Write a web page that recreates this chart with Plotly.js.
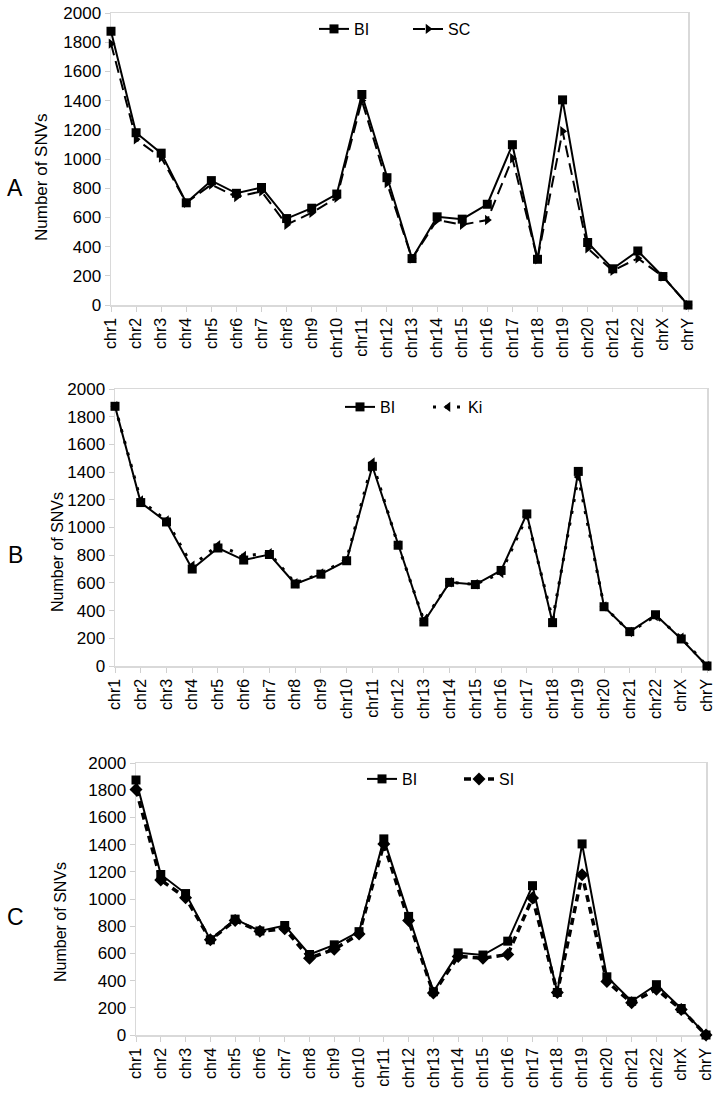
<!DOCTYPE html>
<html>
<head>
<meta charset="utf-8">
<script src="https://cdn.plot.ly/plotly-3.0.1.min.js"></script>
<style>html,body{margin:0;padding:0;background:#fff;}#chart{width:718px;height:1094px;}</style>
</head>
<body>
<div id="chart"></div>
<script>
const chromosomes = ["chr1","chr2","chr3","chr4","chr5","chr6","chr7","chr8","chr9","chr10","chr11","chr12","chr13","chr14","chr15","chr16","chr17","chr18","chr19","chr20","chr21","chr22","chrX","chrY"];
const BI = [1875,1180,1040,700,852,765,805,592,663,760,1442,872,318,604,588,690,1098,313,1405,428,248,370,195,0];
const SC = [1790,1135,1010,700,825,740,778,550,632,735,1400,835,318,582,550,582,1005,313,1190,388,235,320,195,0];
const Ki = [1875,1195,1050,725,872,795,815,598,668,770,1470,872,328,605,590,672,1080,335,1365,430,245,360,205,0];
const SI = [1805,1140,1010,700,842,762,782,565,630,742,1405,842,308,578,565,592,1008,313,1178,393,238,336,188,0];
const yTicks = [0,200,400,600,800,1000,1200,1400,1600,1800,2000];

const W = 718, H = 1094;
const FONT = "Liberation Sans, Arial, sans-serif";
const px = v => v / W;
const py = v => 1 - v / H;

function xax(d, anchor) {
  return {
    domain: d, anchor: anchor, type: 'category', range: [0, chromosomes.length - 1],
    tickangle: -90, ticks: 'outside', ticklen: 5, tickcolor: '#d0d0d0', tickwidth: 1,
    showline: true, linecolor: '#d9d9d9', linewidth: 1.5, mirror: true, layer: 'below traces',
    showgrid: false, zeroline: false, tickfont: {family: FONT, size: 16, color: '#000'},
    fixedrange: true
  };
}
function yax(d, anchor) {
  return {
    domain: d, anchor: anchor, range: [0, 2000], tickvals: yTicks, ticktext: yTicks.map(String),
    ticks: 'outside', ticklen: 5, tickcolor: '#d0d0d0', tickwidth: 1,
    showline: true, linecolor: '#d9d9d9', linewidth: 1.5, mirror: true, layer: 'below traces',
    showgrid: false, zeroline: false, tickfont: {family: FONT, size: 17, color: '#000'},
    fixedrange: true
  };
}

const biStyle = {mode: 'lines+markers', line: {color: '#000', width: 2}, marker: {symbol: 'square', size: 9, color: '#000'}};

const data = [
  Object.assign({x: chromosomes, y: BI, name: 'BI', xaxis: 'x', yaxis: 'y', legend: 'legend', cliponaxis: false}, biStyle),
  {x: chromosomes, y: SC, name: 'SC', xaxis: 'x', yaxis: 'y', legend: 'legend', cliponaxis: false, mode: 'lines+markers',
   line: {color: '#000', width: 2, dash: '12px,6px'}, marker: {symbol: 'triangle-right', size: 9, color: '#000'}},
  Object.assign({x: chromosomes, y: BI, name: 'BI', xaxis: 'x2', yaxis: 'y2', legend: 'legend2', cliponaxis: false}, biStyle),
  {x: chromosomes, y: Ki, name: 'Ki', xaxis: 'x2', yaxis: 'y2', legend: 'legend2', cliponaxis: false, mode: 'lines+markers',
   line: {color: '#000', width: 3, dash: '3px,9px'}, marker: {symbol: 'triangle-left', size: 9, color: '#000'}},
  Object.assign({x: chromosomes, y: BI, name: 'BI', xaxis: 'x3', yaxis: 'y3', legend: 'legend3', cliponaxis: false}, biStyle),
  {x: chromosomes, y: SI, name: 'SI', xaxis: 'x3', yaxis: 'y3', legend: 'legend3', cliponaxis: false, mode: 'lines+markers',
   line: {color: '#000', width: 3.5, dash: '7px,5px'}, marker: {symbol: 'diamond', size: 10, color: '#000'}}
];

function leg(xp, yp, ew) {
  return {x: px(xp), y: py(yp), xanchor: 'left', yanchor: 'middle', orientation: 'h',
    entrywidth: ew, entrywidthmode: 'pixels',
    font: {family: FONT, size: 16, color: '#000'}, bgcolor: 'rgba(0,0,0,0)', borderwidth: 0,
    itemclick: false, itemdoubleclick: false};
}

function ann(text, x, y, size, angle) {
  return {text: text, x: px(x), y: py(y), xref: 'paper', yref: 'paper', xanchor: 'center', yanchor: 'middle',
    textangle: angle || 0, showarrow: false, font: {family: FONT, size: size, color: '#000'}};
}

const layout = {
  width: W, height: H, margin: {l: 0, r: 0, t: 0, b: 0},
  paper_bgcolor: '#fff', plot_bgcolor: '#fff', font: {family: FONT, color: '#000'},
  xaxis: xax([px(111), px(688)], 'y'),
  yaxis: yax([py(305), py(13)], 'x'),
  xaxis2: xax([px(115), px(707)], 'y2'),
  yaxis2: yax([py(666), py(389)], 'x2'),
  xaxis3: xax([px(136), px(706)], 'y3'),
  yaxis3: yax([py(1035), py(763)], 'x3'),
  legend: leg(314, 29, 49),
  legend2: leg(340, 407, 43),
  legend3: leg(362, 779, 52),
  annotations: [
    ann('A', 15, 188, 23),
    ann('B', 15, 555, 23),
    ann('C', 15, 917, 23),
    ann('Number of SNVs', 41, 177, 17, -90),
    ann('Number of SNVs', 57, 552, 16, -90),
    ann('Number of SNVs', 60, 922, 16, -90)
  ],
  showlegend: true
};

Plotly.newPlot('chart', data, layout, {staticPlot: true, displayModeBar: false});
</script>
</body>
</html>
